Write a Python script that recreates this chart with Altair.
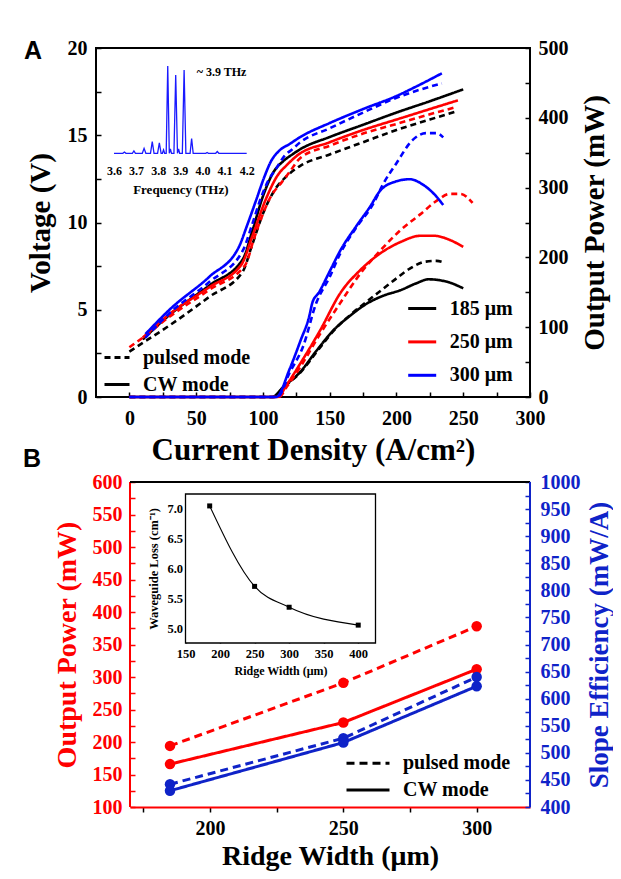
import altair as alt
import pandas as pd

SERIF = "Liberation Serif"
SANS = "Liberation Sans"
RED = "#ff0000"
BLUE_A = "#0000ff"
BLUE_B = "#0f23c8"

WIDTHS = ["185 μm", "250 μm", "300 μm"]
MODES = ["pulsed mode", "CW mode"]

# ---------------- Panel A : voltage curves ----------------
v185_cw_J = [10, 30, 60, 85, 92, 100, 108, 115, 122, 128, 150, 175, 200, 225, 250]
v185_cw_V = [3.3, 4.7, 6.4, 7.9, 9.5, 11.5, 12.9, 13.5, 13.9, 14.2, 14.9, 15.6, 16.3, 16.95, 17.63]
v185_p_J = [0, 10, 30, 60, 85, 91, 100, 110, 117, 125, 128, 150, 175, 200, 225, 244]
v185_p_V = [2.6, 3.1, 4.1, 5.75, 7.2, 8.5, 10.5, 12.0, 12.6, 13.1, 13.25, 13.9, 14.6, 15.3, 15.9, 16.35]
v250_cw_J = [10, 30, 60, 84, 92, 102, 111, 118, 125, 150, 175, 200, 225, 246]
v250_cw_V = [3.4, 4.75, 6.3, 7.6, 9.2, 11.3, 12.7, 13.3, 13.8, 14.6, 15.3, 15.9, 16.5, 17.0]
v250_p_J = [0, 10, 30, 60, 87, 93, 98, 106, 114, 120, 128, 150, 175, 200, 225, 244]
v250_p_V = [2.85, 3.4, 4.6, 6.15, 7.6, 9.0, 10.1, 11.5, 12.3, 12.9, 13.7, 14.4, 15.1, 15.65, 16.2, 16.6]
v300_cw_J = [12, 30, 60, 82, 88, 95, 101, 106, 112, 120, 128, 150, 175, 200, 215, 234]
v300_cw_V = [3.6, 5.0, 6.9, 8.6, 9.8, 11.3, 12.6, 13.5, 14.1, 14.5, 14.9, 15.7, 16.5, 17.25, 17.8, 18.55]
v300_p_J = [12, 30, 60, 85, 92, 98, 104, 110, 116, 122, 128, 150, 175, 200, 215, 234]
v300_p_V = [3.4, 4.8, 6.6, 8.4, 9.9, 11.3, 12.4, 13.1, 13.8, 14.2, 14.6, 15.4, 16.3, 17.15, 17.55, 17.97]

# ---------------- Panel A : output power curves ----------------
p185_cw_J = [0, 107, 115, 128, 140, 153, 165, 178, 190, 203, 215, 224, 238, 250]
p185_cw_P = [0, 0, 14, 36, 66, 96, 116, 134, 145, 153, 163, 168.6, 165, 155.7]
p185_p_J = [0, 108, 115, 128, 140, 153, 165, 178, 190, 200, 210, 222, 230, 236]
p185_p_P = [0, 0, 13, 35, 64, 95, 117, 137, 155, 170, 184, 194, 195, 192.5]
p250_cw_J = [0, 111, 118, 128, 143, 158, 173, 188, 203, 218, 228, 240, 250]
p250_cw_P = [0, 0, 18, 48, 96, 149, 182, 206, 222, 231, 231, 225, 215]
p250_p_J = [0, 112, 118, 128, 143, 158, 173, 188, 203, 218, 230, 240, 248, 257]
p250_p_P = [0, 0, 15, 43, 91, 135, 177, 210, 239, 262, 281, 291, 291, 278]
p300_cw_J = [0, 110, 120, 128, 135, 137, 142, 150, 158, 170, 180, 188, 200, 210, 220, 230, 235]
p300_cw_P = [0, 0, 40, 80, 118, 135, 150, 180, 210, 245, 272, 296, 309, 312, 304, 287, 275]
p300_p_J = [0, 111, 120, 130, 140, 150, 158, 170, 183, 190, 200, 212, 222, 230, 235]
p300_p_P = [0, 0, 35, 72, 135, 172, 206, 243, 278, 305, 335, 368, 378, 378, 372]

# ---------------- Panel A inset : lasing spectrum ----------------
spec_f = [3.600, 3.640, 3.647, 3.654, 3.683, 3.690, 3.697, 3.728, 3.736, 3.744,
          3.765, 3.773, 3.781, 3.797, 3.805, 3.813, 3.819, 3.824, 3.829, 3.836,
          3.843, 3.850, 3.855, 3.860, 3.871, 3.879, 3.887, 3.892, 3.897, 3.909,
          3.917, 3.925, 3.944, 3.951, 3.958, 4.015, 4.021, 4.027, 4.060, 4.067,
          4.074, 4.200]
spec_i = [0, 0, 0.015, 0, 0, 0.027, 0, 0, 0.057, 0,
          0, 0.134, 0, 0, 0.12, 0, 0, 0.04, 0, 0,
          1.0, 0, 0.05, 0, 0, 0.897, 0, 0.05, 0, 0,
          0.954, 0, 0, 0.17, 0, 0, 0.01, 0, 0, 0.02,
          0, 0]

# ---------------- Panel B ----------------
ridge = [185, 250, 300]
power_pulsed = [194, 291, 378]
power_cw = [166, 230, 312]
slope_pulsed = [442, 527, 640]
slope_cw = [430, 519, 623]

# ---------------- Panel B inset ----------------
inset_width = [185, 250, 300, 400]
inset_loss = [7.05, 5.7, 5.35, 5.05]

# ---------------- tables ----------------
volt_series = [
    ("185 μm", "pulsed mode", v185_p_J, v185_p_V), ("185 μm", "CW mode", v185_cw_J, v185_cw_V),
    ("250 μm", "pulsed mode", v250_p_J, v250_p_V), ("250 μm", "CW mode", v250_cw_J, v250_cw_V),
    ("300 μm", "pulsed mode", v300_p_J, v300_p_V), ("300 μm", "CW mode", v300_cw_J, v300_cw_V),
]
pow_series = [
    ("185 μm", "pulsed mode", p185_p_J, p185_p_P), ("185 μm", "CW mode", p185_cw_J, p185_cw_P),
    ("250 μm", "pulsed mode", p250_p_J, p250_p_P), ("250 μm", "CW mode", p250_cw_J, p250_cw_P),
    ("300 μm", "pulsed mode", p300_p_J, p300_p_P), ("300 μm", "CW mode", p300_cw_J, p300_cw_P),
]
df_volt = pd.DataFrame([{"J": j, "V": v, "width": w, "mode": m}
                        for w, m, js, vs in volt_series for j, v in zip(js, vs)])
df_pow = pd.DataFrame([{"J": j, "P": p, "width": w, "mode": m}
                       for w, m, js, ps in pow_series for j, p in zip(js, ps)])
df_spec = pd.DataFrame({"f": spec_f, "I": spec_i})
df_red = pd.DataFrame([{"w": r, "p": v, "mode": "pulsed mode"} for r, v in zip(ridge, power_pulsed)] +
                      [{"w": r, "p": v, "mode": "CW mode"} for r, v in zip(ridge, power_cw)])
df_blue = pd.DataFrame([{"w": r, "s": v, "mode": "pulsed mode"} for r, v in zip(ridge, slope_pulsed)] +
                       [{"w": r, "s": v, "mode": "CW mode"} for r, v in zip(ridge, slope_cw)])
df_loss = pd.DataFrame({"rw": inset_width, "loss": inset_loss})

# scale domains
A_XDOM = [-25, 300]
A_VDOM = [0, 20]
A_PDOM = [0, 500]
B_XDOM = [170, 320]
B_PDOM = [100, 600]
B_SDOM = [400, 1000]
IA_XDOM = [3.6, 4.2]
IB_XDOM = [150, 425]
IB_YDOM = [4.75, 7.25]

# ---------------- Panel A ----------------
sA_x = alt.Scale(domain=A_XDOM, nice=False, zero=False)
sA_v = alt.Scale(domain=A_VDOM, nice=False, zero=False)
sA_p = alt.Scale(domain=A_PDOM, nice=False, zero=False)
sA_c = alt.Scale(domain=WIDTHS, range=["#000000", RED, BLUE_A])
sA_d = alt.Scale(domain=MODES, range=[[6, 4], [1, 0]])

axA_x = alt.Axis(orient="bottom", offset=-5, domain=False, tickSize=5,
                 values=list(range(0, 301, 25)),
                 labelExpr="datum.value % 50 === 0 ? datum.label : ''",
                 labelPadding=11, labelFontSize=20,
                 title="Current Density (A/cm²)", titleFontSize=31, titlePadding=7)
axA_v = alt.Axis(orient="left", offset=-5, domain=False, tickSize=5,
                 values=[0, 2.5, 5, 7.5, 10, 12.5, 15, 17.5, 20],
                 labelExpr="datum.value % 5 === 0 ? datum.label : ''",
                 labelPadding=9, labelFontSize=20,
                 title="Voltage (V)", titleFontSize=29, titlePadding=12)
axA_p = alt.Axis(orient="right", offset=-5, domain=False, tickSize=5,
                 values=list(range(0, 501, 50)),
                 labelExpr="datum.value % 100 === 0 ? datum.label : ''",
                 labelPadding=8, labelFontSize=20,
                 title="Output Power (mW)", titleFontSize=29, titlePadding=12,
                 titleAngle=270, titleBaseline="top")

legA_c = alt.Legend(orient="none", legendX=310.7, legendY=245, title=None,
                    symbolType="stroke", symbolSize=784, symbolStrokeWidth=3,
                    labelOffset=12, rowPadding=7.4, padding=0)
legA_d = alt.Legend(orient="none", legendX=7, legendY=295.5, title=None,
                    symbolType="stroke", symbolSize=625, symbolStrokeWidth=3,
                    symbolStrokeColor="black", labelOffset=12, rowPadding=3, padding=0)

volt_lines = alt.Chart(df_volt).mark_line(strokeWidth=2.6, interpolate="monotone").encode(
    x=alt.X("J:Q", scale=sA_x, axis=axA_x),
    y=alt.Y("V:Q", scale=sA_v, axis=axA_v),
    color=alt.Color("width:N", scale=sA_c, legend=legA_c),
    strokeDash=alt.StrokeDash("mode:N", scale=sA_d, legend=legA_d),
)
labA = alt.Chart(pd.DataFrame({"J": [-72.2], "V": [19.83], "t": ["A"]})).mark_text(
    font=SANS, fontWeight="bold", fontSize=25, align="center", baseline="middle", color="black"
).encode(x=alt.X("J:Q", scale=sA_x, axis=axA_x), y=alt.Y("V:Q", scale=sA_v, axis=axA_v), text="t:N")

pow_lines = alt.Chart(df_pow).mark_line(strokeWidth=2.6, interpolate="monotone").encode(
    x=alt.X("J:Q", scale=sA_x, axis=axA_x),
    y=alt.Y("P:Q", scale=sA_p, axis=axA_p),
    color=alt.Color("width:N", scale=sA_c, legend=legA_c),
    strokeDash=alt.StrokeDash("mode:N", scale=sA_d, legend=legA_d),
)
panelA = alt.layer(alt.layer(volt_lines, labA), pow_lines).resolve_scale(y="independent")

# ---------------- Panel A inset ----------------
sIA_x = alt.Scale(domain=IA_XDOM, range=[18, 150.7], nice=False, zero=False)
sIA_y = alt.Scale(domain=[0, 1], range=[105.3, 18], nice=False, zero=False)
axIA_x = alt.Axis(orient="bottom", offset=-239, domain=False, ticks=False,
                  values=[3.6, 3.7, 3.8, 3.9, 4.0, 4.1, 4.2], format=".1f",
                  labelPadding=7, labelFontSize=12,
                  title="Frequency (THz)", titleFontSize=13, titlePadding=7)
spec = alt.Chart(df_spec).mark_line(color="#1a1aff", strokeWidth=1.3).encode(
    x=alt.X("f:Q", scale=sIA_x, axis=axIA_x),
    y=alt.Y("I:Q", scale=sIA_y, axis=None),
)
thz = alt.Chart(pd.DataFrame({"f": [3.974], "I": [0.935], "t": ["~ 3.9 THz"]})).mark_text(
    font=SERIF, fontWeight="bold", fontSize=12, align="left", baseline="middle", color="black"
).encode(x=alt.X("f:Q", scale=sIA_x, axis=axIA_x), y=alt.Y("I:Q", scale=sIA_y, axis=None), text="t:N")
insetA = alt.layer(spec, thz)

# ---------------- Panel B ----------------
sB_x = alt.Scale(domain=B_XDOM, range=[34, 434], nice=False, zero=False)
sB_p = alt.Scale(domain=B_PDOM, range=[759, 434], nice=False, zero=False)
sB_s = alt.Scale(domain=B_SDOM, range=[759, 434], nice=False, zero=False)
sB_d = alt.Scale(domain=MODES, range=[[8, 5], [1, 0]])

axB_x = alt.Axis(orient="bottom", offset=410, domain=True, domainColor=RED, domainWidth=2,
                 tickSize=5, values=[175, 200, 225, 250, 275, 300],
                 labelExpr="datum.value % 50 === 0 ? datum.label : ''",
                 labelPadding=6, labelFontSize=20,
                 title="Ridge Width (μm)", titleFontSize=28, titlePadding=4)
axB_p = alt.Axis(orient="left", offset=-39, domain=False, tickSize=5, tickColor=RED,
                 values=list(range(100, 601, 25)),
                 labelExpr="datum.value % 50 === 0 ? datum.label : ''",
                 labelPadding=8, labelFontSize=20, labelColor=RED,
                 title="Output Power (mW)", titleFontSize=28, titlePadding=11, titleColor=RED)
axB_s = alt.Axis(orient="right", offset=-5, domain=False, tickSize=5, tickColor=BLUE_B,
                 values=list(range(400, 1001, 25)), format="d",
                 labelExpr="datum.value % 50 === 0 ? datum.label : ''",
                 labelPadding=10, labelFontSize=20, labelColor=BLUE_B,
                 title="Slope Efficiency (mW/A)", titleFontSize=27, titlePadding=6,
                 titleColor=BLUE_B, titleAngle=270, titleBaseline="top")
legB_d = alt.Legend(orient="none", legendX=249, legendY=704.3, title=None,
                    symbolType="stroke", symbolSize=1849, symbolStrokeWidth=3,
                    symbolStrokeColor="black", labelOffset=12, rowPadding=4.7,
                    clipHeight=22, padding=0)

xB = alt.X("w:Q", scale=sB_x, axis=axB_x)
yBp = alt.Y("p:Q", scale=sB_p, axis=axB_p)
yBs = alt.Y("s:Q", scale=sB_s, axis=axB_s)

red_lines = alt.Chart(df_red).mark_line(color=RED, strokeWidth=3).encode(
    x=xB, y=yBp, strokeDash=alt.StrokeDash("mode:N", scale=sB_d, legend=legB_d))
red_pts = alt.Chart(df_red).mark_circle(color=RED, size=110, opacity=1).encode(x=xB, y=yBp)
left_rule = alt.Chart(pd.DataFrame({"w": [B_XDOM[0]], "p": [B_PDOM[0]], "p2": [B_PDOM[1]]})).mark_rule(
    color=RED, strokeWidth=2).encode(x=xB, y=yBp, y2="p2")
top_rule = alt.Chart(pd.DataFrame({"w": [B_XDOM[0]], "w2": [B_XDOM[1]], "p": [B_PDOM[1]]})).mark_rule(
    color="black", strokeWidth=2).encode(x=xB, x2="w2", y=yBp)
labB = alt.Chart(pd.DataFrame({"w": [133.3], "p": [635.4], "t": ["B"]})).mark_text(
    font=SANS, fontWeight="bold", fontSize=25, align="center", baseline="middle", color="black"
).encode(x=xB, y=yBp, text="t:N")
red_layer = alt.layer(left_rule, top_rule, red_lines, red_pts, labB)

blue_lines = alt.Chart(df_blue).mark_line(color=BLUE_B, strokeWidth=3).encode(
    x=xB, y=yBs, strokeDash=alt.StrokeDash("mode:N", scale=sB_d, legend=legB_d))
blue_pts = alt.Chart(df_blue).mark_circle(color=BLUE_B, size=110, opacity=1).encode(x=xB, y=yBs)
right_rule = alt.Chart(pd.DataFrame({"w": [B_XDOM[1]], "s": [B_SDOM[0]], "s2": [B_SDOM[1]]})).mark_rule(
    color=BLUE_B, strokeWidth=2).encode(x=xB, y=yBs, y2="s2")
blue_layer = alt.layer(right_rule, blue_lines, blue_pts)

panelB = alt.layer(red_layer, blue_layer).resolve_scale(y="independent")

# ---------------- Panel B inset ----------------
sIB_x = alt.Scale(domain=IB_XDOM, range=[89.5, 279.5], nice=False, zero=False)
sIB_y = alt.Scale(domain=IB_YDOM, range=[595, 446], nice=False, zero=False)
axIB_x = alt.Axis(orient="bottom", offset=243, domain=False, tickSize=3,
                  values=[150, 200, 250, 300, 350, 400],
                  labelPadding=4, labelFontSize=12.5,
                  title="Ridge Width (μm)", titleFontSize=12, titlePadding=6)
axIB_y = alt.Axis(orient="left", offset=-92.5, domain=False, tickSize=3,
                  values=[5.0, 5.5, 6.0, 6.5, 7.0], format=".1f",
                  labelPadding=3, labelFontSize=12.5,
                  title="Waveguide Loss (cm⁻¹)", titleFontSize=12.5, titlePadding=6)
xIB = alt.X("rw:Q", scale=sIB_x, axis=axIB_x)
yIB = alt.Y("loss:Q", scale=sIB_y, axis=axIB_y)

frameB = alt.Chart(pd.DataFrame({"rw": [IB_XDOM[0]], "rw2": [IB_XDOM[1]],
                                 "loss": [IB_YDOM[0]], "loss2": [IB_YDOM[1]]})).mark_rect(
    fill="white", stroke="black", strokeWidth=1.3).encode(x=xIB, x2="rw2", y=yIB, y2="loss2")
loss_line = alt.Chart(df_loss).mark_line(color="black", strokeWidth=1.1, interpolate="monotone").encode(
    x=xIB, y=yIB)
loss_pts = alt.Chart(df_loss).mark_square(color="black", size=25, opacity=1).encode(x=xIB, y=yIB)
insetB = alt.layer(frameB, loss_line, loss_pts)

chart = alt.layer(panelA, insetA, panelB, insetB).resolve_scale(
    x="independent", y="independent", color="independent", strokeDash="independent"
).properties(
    width=434, height=349,
    autosize=alt.AutoSizeParams(type="none"),
    padding={"left": 88, "top": 40, "right": 83, "bottom": 474},
).configure_axis(
    grid=False, labelFont=SERIF, labelFontWeight="bold", titleFont=SERIF, titleFontWeight="bold",
    labelColor="black", titleColor="black", tickColor="black", tickWidth=1.5,
    labelFlush=False, labelOverlap=False,
).configure_legend(
    labelFont=SERIF, labelFontWeight="bold", labelFontSize=20, labelColor="black",
).configure_view(stroke="black", strokeWidth=2)

chart.save("out.html", embed_options={"renderer": "svg", "actions": False})
